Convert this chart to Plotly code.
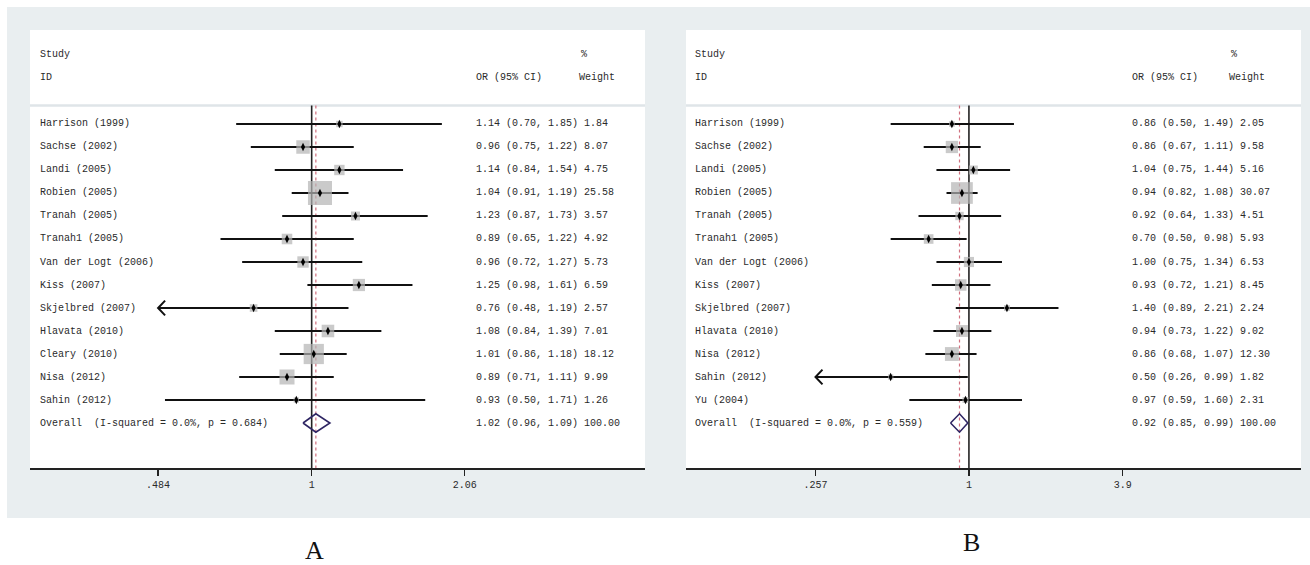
import plotly.graph_objects as go

# ---------------- data ----------------
studies_A = ["Harrison (1999)", "Sachse (2002)", "Landi (2005)", "Robien (2005)", "Tranah (2005)",
             "Tranah1 (2005)", "Van der Logt (2006)", "Kiss (2007)", "Skjelbred (2007)",
             "Hlavata (2010)", "Cleary (2010)", "Nisa (2012)", "Sahin (2012)"]
or_A = [1.14, 0.96, 1.14, 1.04, 1.23, 0.89, 0.96, 1.25, 0.76, 1.08, 1.01, 0.89, 0.93]
lo_A = [0.70, 0.75, 0.84, 0.91, 0.87, 0.65, 0.72, 0.98, 0.48, 0.84, 0.86, 0.71, 0.50]
hi_A = [1.85, 1.22, 1.54, 1.19, 1.73, 1.22, 1.27, 1.61, 1.19, 1.39, 1.18, 1.11, 1.71]
wt_A = [1.84, 8.07, 4.75, 25.58, 3.57, 4.92, 5.73, 6.59, 2.57, 7.01, 18.12, 9.99, 1.26]
arrow_A = [0, 0, 0, 0, 0, 0, 0, 0, 1, 0, 0, 0, 0]
overall_A = [1.02, 0.96, 1.09]
overall_label_A = "Overall  (I-squared = 0.0%, p = 0.684)"
ticks_A = [0.484, 1, 2.06]
ticktext_A = [".484", "1", "2.06"]

studies_B = ["Harrison (1999)", "Sachse (2002)", "Landi (2005)", "Robien (2005)", "Tranah (2005)",
             "Tranah1 (2005)", "Van der Logt (2006)", "Kiss (2007)", "Skjelbred (2007)",
             "Hlavata (2010)", "Nisa (2012)", "Sahin (2012)", "Yu (2004)"]
or_B = [0.86, 0.86, 1.04, 0.94, 0.92, 0.70, 1.00, 0.93, 1.40, 0.94, 0.86, 0.50, 0.97]
lo_B = [0.50, 0.67, 0.75, 0.82, 0.64, 0.50, 0.75, 0.72, 0.89, 0.73, 0.68, 0.26, 0.59]
hi_B = [1.49, 1.11, 1.44, 1.08, 1.33, 0.98, 1.34, 1.21, 2.21, 1.22, 1.07, 0.99, 1.60]
wt_B = [2.05, 9.58, 5.16, 30.07, 4.51, 5.93, 6.53, 8.45, 2.24, 9.02, 12.30, 1.82, 2.31]
arrow_B = [0, 0, 0, 0, 0, 0, 0, 0, 0, 0, 0, 1, 0]
overall_B = [0.92, 0.85, 0.99]
overall_label_B = "Overall  (I-squared = 0.0%, p = 0.559)"
ticks_B = [0.257, 1, 3.9]
ticktext_B = [".257", "1", "3.9"]

# ---------------- layout constants ----------------
W, H = 1310, 565
MONO = "Liberation Mono"
TXT = "#2a2a2a"
GRAY_BG = "#e9eef0"
ROW0, ROWH = 124, 23          # pixel y of first row, row height
TOP, AXIS_Y = 30, 468         # white panel top, axis line pixel y
SEP_ROW = (105.5 - ROW0) / ROWH

def px(x):
    return x / W

def py(y):
    return 1 - y / H

y_range = [(AXIS_Y - ROW0) / ROWH, (TOP - ROW0) / ROWH]

panels = [
    dict(xa="x", ya="y", xkey="xaxis", ykey="yaxis", dom=(30, 645), rng=[-0.578, 0.684],
         studies=studies_A, orv=or_A, lo=lo_A, hi=hi_A, wt=wt_A, arrow=arrow_A,
         ov=overall_A, ovlab=overall_label_A, ticks=ticks_A, ticktext=ticktext_A,
         name_x=38, or_x=474, pct_x=579, wlab_x=577, box_k=4.75, letter="A", letter_xy=(314, 550)),
    dict(xa="x2", ya="y2", xkey="xaxis2", ykey="yaxis2", dom=(686, 1301), rng=[-1.088, 1.277],
         studies=studies_B, orv=or_B, lo=lo_B, hi=hi_B, wt=wt_B, arrow=arrow_B,
         ov=overall_B, ovlab=overall_label_B, ticks=ticks_B, ticktext=ticktext_B,
         name_x=693, or_x=1130, pct_x=1229, wlab_x=1227, box_k=3.96, letter="B", letter_xy=(971, 542)),
]

fig = go.Figure()
shapes = [dict(type="rect", xref="paper", yref="paper", x0=px(7), x1=px(1310), y0=py(518), y1=py(7),
               fillcolor=GRAY_BG, line=dict(width=0), layer="below")]
annotations = []

for p in panels:
    n = len(p["studies"])
    rows = list(range(n))
    ov_row = n
    d0, d1 = p["dom"]
    px_per_dec = (d1 - d0) / (p["rng"][1] - p["rng"][0])
    tick_lo = p["ticks"][0]

    # white panel + separator
    shapes.append(dict(type="rect", xref="paper", yref="paper", x0=px(d0), x1=px(d1),
                       y0=py(AXIS_Y), y1=py(TOP), fillcolor="white", line=dict(width=0), layer="below"))
    shapes.append(dict(type="line", xref="paper", yref="paper", x0=px(d0), x1=px(d1),
                       y0=py(105.5), y1=py(105.5), line=dict(color="#dfe5e8", width=2.5), layer="below"))

    common = dict(xaxis=p["xa"], yaxis=p["ya"], showlegend=False, hoverinfo="skip")

    # null line at 1
    fig.add_trace(go.Scatter(x=[1, 1], y=[SEP_ROW, y_range[0]], mode="lines",
                             line=dict(color="#222222", width=1.6), **common))
    # overall dashed line
    fig.add_trace(go.Scatter(x=[p["ov"][0], p["ov"][0]], y=[SEP_ROW, y_range[0]], mode="lines",
                             line=dict(color="#d0707e", width=1.2, dash="3px,3px"), **common))

    # CI lines
    cx, cy = [], []
    for i in rows:
        x0 = tick_lo if p["arrow"][i] else p["lo"][i]
        cx += [x0, p["hi"][i], None]
        cy += [i, i, None]
    fig.add_trace(go.Scatter(x=cx, y=cy, mode="lines", line=dict(color="#111111", width=2), **common))

    # arrows (open chevrons) for clipped lower limits
    ax_, ay_ = [], []
    arm = 10 ** (7 / px_per_dec)
    for i in rows:
        if p["arrow"][i]:
            ax_ += [tick_lo * arm, tick_lo, tick_lo * arm, None]
            ay_ += [i - 0.32, i, i + 0.32, None]
    if ax_:
        fig.add_trace(go.Scatter(x=ax_, y=ay_, mode="lines", line=dict(color="#111111", width=2), **common))

    # weight boxes
    fig.add_trace(go.Scatter(x=p["orv"], y=rows, mode="markers",
                             marker=dict(symbol="square", color="#b4b4b4",
                                         size=[p["box_k"] * w ** 0.5 for w in p["wt"]], line=dict(width=0)),
                             **common))
    # point estimates
    fig.add_trace(go.Scatter(x=p["orv"], y=rows, mode="markers",
                             marker=dict(symbol="diamond-tall", color="#000000", size=6, line=dict(width=0)),
                             **common))
    # overall diamond
    est, l, h = p["ov"]
    fig.add_trace(go.Scatter(x=[l, est, h, est, l], y=[ov_row, ov_row - 0.4, ov_row, ov_row + 0.4, ov_row],
                             mode="lines", line=dict(color="#2e2563", width=1.6), **common))

    # axes
    fig.update_layout(**{
        p["xkey"]: dict(domain=[px(d0), px(d1)], type="log", range=p["rng"], anchor=p["ya"],
                        showgrid=False, zeroline=False, showline=True, linecolor="#222222", linewidth=1.6,
                        ticks="outside", ticklen=6, tickwidth=1.3, tickcolor="#222222",
                        tickvals=p["ticks"], ticktext=p["ticktext"],
                        tickfont=dict(family=MONO, size=10, color=TXT), fixedrange=True),
        p["ykey"]: dict(domain=[py(AXIS_Y), py(TOP)], range=y_range, anchor=p["xa"], visible=False,
                        showgrid=False, zeroline=False, fixedrange=True),
    })

    def ann(text, x, row):
        annotations.append(dict(text=text, xref="paper", yref=p["ya"], x=px(x), y=row,
                                xanchor="left", yanchor="middle", showarrow=False,
                                font=dict(family=MONO, size=10, color=TXT)))

    # header
    ann("Study", p["name_x"], -3)
    ann("ID", p["name_x"], -2)
    ann("OR (95% CI)", p["or_x"], -2)
    ann("%", p["pct_x"], -3)
    ann("Weight", p["wlab_x"], -2)

    # rows
    for i in rows:
        ann(p["studies"][i], p["name_x"], i)
        ann(f"{p['orv'][i]:.2f} ({p['lo'][i]:.2f}, {p['hi'][i]:.2f}) {p['wt'][i]:.2f}", p["or_x"], i)
    ann(p["ovlab"], p["name_x"], ov_row)
    ann(f"{est:.2f} ({l:.2f}, {h:.2f}) 100.00", p["or_x"], ov_row)

    # panel letter
    annotations.append(dict(text=p["letter"], xref="paper", yref="paper", x=px(p["letter_xy"][0]),
                            y=py(p["letter_xy"][1]), xanchor="center", yanchor="middle", showarrow=False,
                            font=dict(family="Liberation Serif", size=26, color="#111111")))

fig.update_layout(width=W, height=H, margin=dict(l=0, r=0, t=0, b=0),
                  paper_bgcolor="white", plot_bgcolor="rgba(0,0,0,0)",
                  shapes=shapes, annotations=annotations)

fig.write_html("out.html", config={"displayModeBar": False, "staticPlot": True},
               post_script="document.body.style.margin='0';document.body.style.overflow='hidden';")
